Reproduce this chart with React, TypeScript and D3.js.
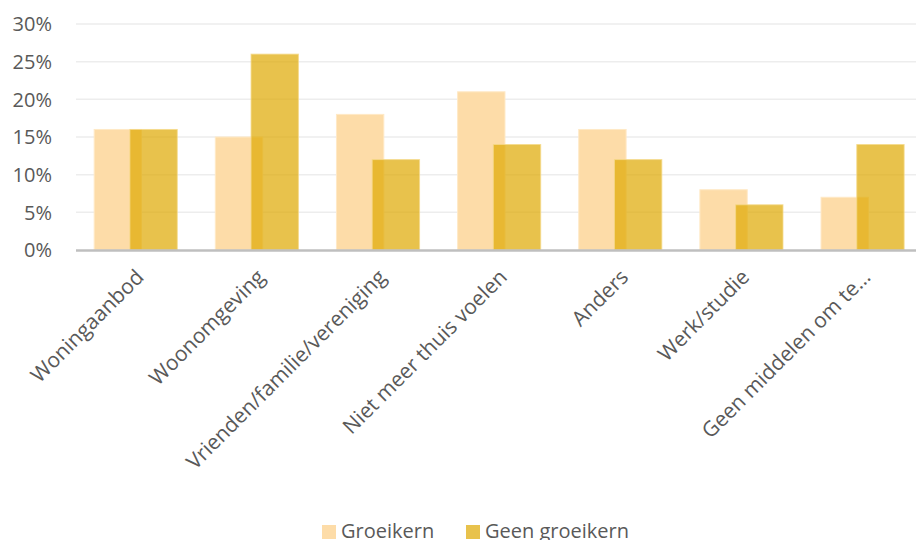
import React from "react";
import * as d3 from "d3";

const categories = [
  "Woningaanbod",
  "Woonomgeving",
  "Vrienden/familie/vereniging",
  "Niet meer thuis voelen",
  "Anders",
  "Werk/studie",
  "Geen middelen om te…",
];
const groeikern = [16, 15, 18, 21, 16, 8, 7];
const geenGroeikern = [16, 26, 12, 14, 12, 6, 14];
const yTicks = [0, 5, 10, 15, 20, 25, 30];
const seriesNames = ["Groeikern", "Geen groeikern"];

const W = 916;
const H = 540;
const FONT = "'Open Sans', sans-serif";
const TEXT = "#595959";

export default function App() {
  const x = d3.scaleBand<string>().domain(categories).range([76, 924]).padding(0);
  const y = d3.scaleLinear().domain([0, 30]).range([250, 24]);
  const step = x.step();
  const barW = step * 0.391;
  const groupStart = step * 0.15;
  const goldOffset = step * 0.295;

  return (
    <svg width={W} height={H} style={{ display: "block", position: "absolute", left: 0, top: 0 }}>
      <rect x={0} y={0} width={W} height={H} fill="#fff" />
      {yTicks.map((t) => (
        <g key={t}>
          {t > 0 && (
            <line x1={76} x2={W} y1={y(t)} y2={y(t)} stroke="#EDEDED" strokeWidth={1.5} />
          )}
          <text
            x={52}
            y={y(t)}
            dy="0.36em"
            textAnchor="end"
            fontFamily={FONT}
            fontSize={20}
            fill={TEXT}
          >
            {t}%
          </text>
        </g>
      ))}
      {categories.map((c, i) => {
        const x0 = (x(c) as number) + groupStart;
        return (
          <g key={c}>
            <rect
              x={x0}
              y={y(groeikern[i])}
              width={barW}
              height={y(0) - y(groeikern[i])}
              fill="#FDDCA8"
              stroke="#FFE9C6"
              strokeWidth={1}
            />
            <rect
              x={x0 + goldOffset}
              y={y(geenGroeikern[i])}
              width={barW}
              height={y(0) - y(geenGroeikern[i])}
              fill="#DEA800"
              fillOpacity={0.7}
              stroke="#F5D98A"
              strokeWidth={1}
              strokeOpacity={0.8}
            />
          </g>
        );
      })}
      <line x1={76} x2={W} y1={y(0) + 0.5} y2={y(0) + 0.5} stroke="#BFBFBF" strokeWidth={2.5} />
      {categories.map((c) => {
        const cx = (x(c) as number) + step / 2 - 2;
        const cy = 268;
        return (
          <text
            key={c}
            transform={`translate(${cx},${cy}) rotate(-45)`}
            textAnchor="end"
            dy="0.7em"
            fontFamily={FONT}
            fontSize={21}
            fill={TEXT}
          >
            {c}
          </text>
        );
      })}
      <g>
        <rect x={322} y={525} width={14} height={14} fill="#FDDCA8" />
        <text x={341} y={538} fontFamily={FONT} fontSize={20} fill={TEXT}>
          {seriesNames[0]}
        </text>
        <rect x={466} y={525} width={14} height={14} fill="#DEA800" fillOpacity={0.7} />
        <text x={485} y={538} fontFamily={FONT} fontSize={20} fill={TEXT}>
          {seriesNames[1]}
        </text>
      </g>
    </svg>
  );
}
